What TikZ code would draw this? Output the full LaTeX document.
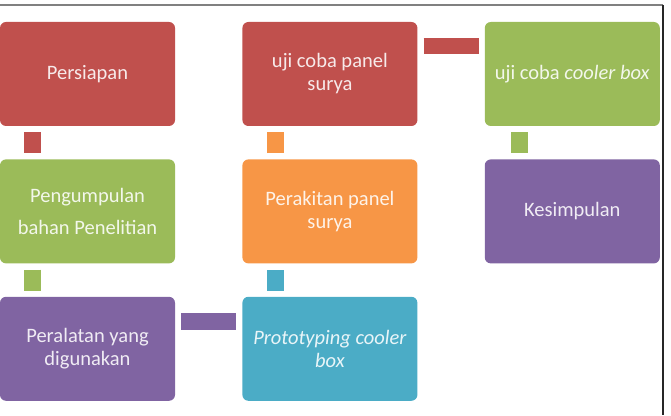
\documentclass[tikz,border=0pt]{standalone}
\usepackage{fontspec}
\setmainfont{Carlito}
\usetikzlibrary{positioning}

\definecolor{sared}{HTML}{C0504D}
\definecolor{sagreen}{HTML}{9BBB59}
\definecolor{saorange}{HTML}{F79646}
\definecolor{sateal}{HTML}{4BACC6}
\definecolor{sapurple}{HTML}{8064A2}
\newcommand{\boxfont}{\fontsize{20.5}{23}\selectfont}

\begin{document}
\begin{tikzpicture}[
      x=1pt, y=1pt,
      node distance=33pt and 67pt,
      box/.style={rounded corners=6pt, minimum width=175pt, minimum height=104pt, inner sep=2pt, align=center, font=\boxfont, fill=#1, text=white!88!#1},
      link/.style={line width=17pt, draw=#1, shorten <=6pt, shorten >=6pt}
  ]
    \useasboundingbox (0,0) rectangle (671,415);
    \clip (0,0) rectangle (671,415);

    \node[box=sared] (persiapan) at (87.5,341) {Persiapan};
    \node[box=sagreen, below=of persiapan, font=\fontsize{20.5}{32}\selectfont] (bahan) {Pengumpulan\\bahan Penelitian};
    \node[box=sapurple, below=of bahan] (alat) {Peralatan yang\\digunakan};

    \node[box=sateal, right=of alat, font=\boxfont\itshape] (proto) {Prototyping cooler\\box};
    \node[box=saorange, above=of proto] (rakit) {Perakitan panel\\surya};
    \node[box=sared, above=of rakit] (ujipanel) {uji coba panel\\surya};

    \node[box=sagreen, right=of ujipanel] (ujibox) {uji coba \textit{cooler box}};
    \node[box=sapurple, below=of ujibox] (simpul) {Kesimpulan};

    \draw[link=sared] ([xshift=32.5pt]persiapan.south west) -- ([xshift=32.5pt]bahan.north west);
    \draw[link=sagreen] ([xshift=32.5pt]bahan.south west) -- ([xshift=32.5pt]alat.north west);
    \draw[link=sapurple] ([yshift=-24.5pt]alat.north east) -- ([yshift=-24.5pt]proto.north west);
    \draw[link=sateal] ([xshift=33.5pt]proto.north west) -- ([xshift=33.5pt]rakit.south west);
    \draw[link=saorange] ([xshift=33.5pt]rakit.north west) -- ([xshift=33.5pt]ujipanel.south west);
    \draw[link=sared, line width=16pt] ([yshift=-24pt]ujipanel.north east) -- ([yshift=-24pt]ujibox.north west);
    \draw[link=sagreen] ([xshift=35pt]ujibox.south west) -- ([xshift=35pt]simpul.north west);

    % frame
    \draw[gray, line width=1.5pt] (0,410) -- (663,410);
    \draw[black!85, line width=1.5pt] (663,410) -- (663,0);
  \end{tikzpicture}
\end{document}
